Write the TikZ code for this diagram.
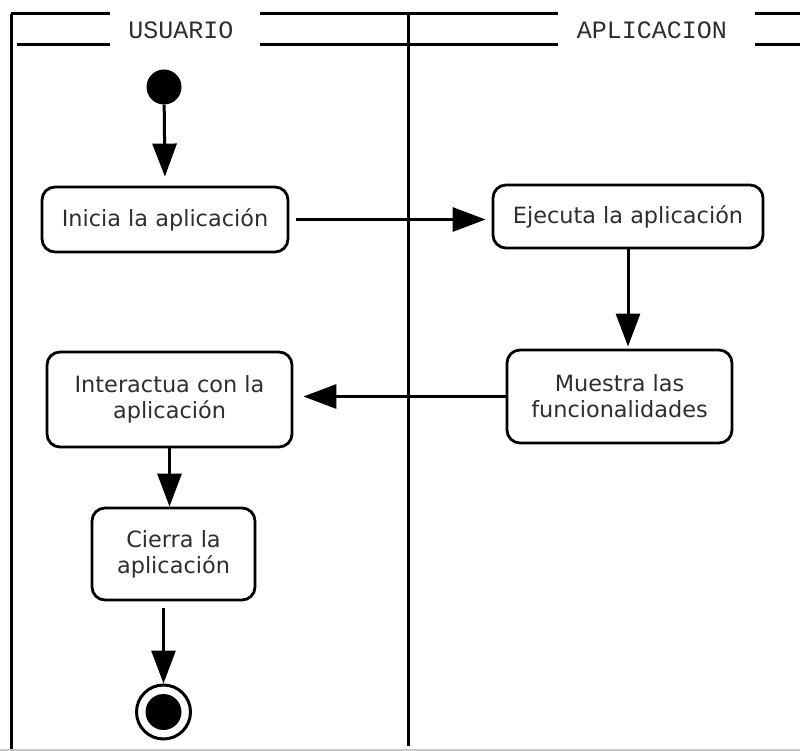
\documentclass[tikz,border=0pt]{standalone}
\usepackage{fontspec}
\setmainfont{DejaVu Sans}
\newfontfamily\lanefont{Liberation Mono}
\usetikzlibrary{arrows.meta}
\definecolor{inkgray}{HTML}{2E2E2E}
\tikzset{
  frame/.style={line width=3pt},
  lanetitle/.style={font=\lanefont\fontsize{25}{27}\selectfont, text=inkgray, inner sep=0pt},
  action/.style={draw, line width=2.8pt, rounded corners=13pt, inner sep=0pt,
    align=center, text=inkgray, font=\fontsize{22.4}{26}\selectfont},
  flow/.style={line width=3pt, -{Triangle[length=33pt,width=24pt]}},
  startdot/.style={circle, fill=black, minimum size=35pt, inner sep=0pt},
  enddot/.style={circle, draw, line width=3pt, minimum size=54pt, inner sep=0pt,
    path picture={\fill (path picture bounding box.center) circle (18pt);}}
}
\begin{document}
\begin{tikzpicture}[x=1pt,y=-1pt]
\useasboundingbox (0,0) rectangle (800,751);

% swimlane frame
\draw[gray!45, line width=2pt] (0,749.5) -- (800,749.5);
\draw[frame] (11,14) -- (11,749);
\draw[frame] (408,14) -- (408,746);
\draw[frame] (11,14) -- (110,14);
\draw[frame] (260,14) -- (558,14);
\draw[frame] (755,14) -- (800,14);
\draw[frame] (17,45) -- (110,45);
\draw[frame] (260,45) -- (558,45);
\draw[frame] (755,45) -- (800,45);
\node[lanetitle] (laneU) at (181,30) {USUARIO};
\node[lanetitle] (laneA) at (652,30) {APLICACION};

% activities
\node[startdot] (ini) at (164,87) {};
\node[action, minimum width=246pt, minimum height=65pt] (inicia) at (165,219.5) {Inicia la aplicación};
\node[action, minimum width=270pt, minimum height=63pt] (ejec) at (628,216.5) {Ejecuta la aplicación};
\node[action, minimum width=225pt, minimum height=93pt] (mues) at (619.5,396.5) {Muestra las\\funcionalidades};
\node[action, minimum width=245pt, minimum height=95pt] (inter) at (169.5,399.5) {Interactua con la\\aplicación};
\node[action, minimum width=163pt, minimum height=92pt] (cierra) at (173.5,554) {Cierra la\\aplicación};
\node[enddot] (fin) at (163.5,712) {};

% transitions
\draw[flow, shorten >=9pt] (ini) -- (inicia.north);
\draw[flow, shorten <=7pt, shorten >=6pt] (inicia.east) -- (inicia.east -| ejec.west);
\draw[flow, shorten >=2pt] (ejec.south) -- (ejec.south |- mues.north);
\draw[flow, shorten >=10pt] (mues.west) -- (mues.west -| inter.east);
\draw[flow] (inter.south) -- (inter.south |- cierra.north);
\draw[flow, shorten <=7pt] (cierra.south -| fin) -- (fin.north);
\end{tikzpicture}
\end{document}
